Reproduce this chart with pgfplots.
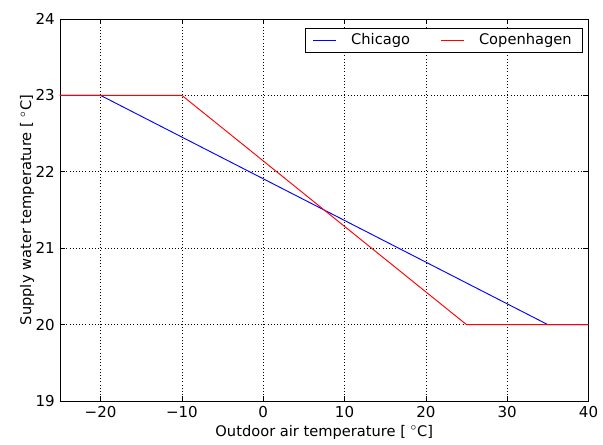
\documentclass[border=0pt]{standalone}
\usepackage{fontspec}
\setmainfont{DejaVu Sans}
\usepackage{pgfplots}
\pgfplotsset{compat=1.18}
\begin{document}
\fontsize{11}{13}\selectfont
\begin{tikzpicture}
\begin{axis}[
  scale only axis,
  width=397pt, height=287pt,
  xmin=-25, xmax=40, ymin=19, ymax=24,
  xtick={-20,-10,0,10,20,30,40},
  xticklabels={−20,−10,0,10,20,30,40},
  ytick={19,20,21,22,23,24},
  yticklabels={19,20,21,22,23,24},
  ticklabel style={font=\fontsize{11.3}{13}\selectfont},
  tick align=inside,
  tick style={black, line width=0.5pt},
  major tick length=4pt,
  xtick pos=both, ytick pos=both,
  grid=major,
  grid style={black, dotted, line width=0.5pt},
  axis line style={black, line width=0.6pt},
  xlabel={Outdoor air temperature [ $^\circ$C]},
  ylabel={Supply water temperature [ $^\circ$C]},
  xlabel style={at={(axis description cs:0.5,-0.081)}, anchor=center},
  ylabel style={at={(axis description cs:-0.0623,0.5)}, anchor=center},
  legend columns=2,
  legend style={at={(0.9887,0.9765)}, anchor=north east, draw=black,
    /tikz/every odd column/.append style={column sep=9pt},
    /tikz/every even column/.append style={column sep=21pt}, inner xsep=6pt, inner ysep=2pt},
  legend cell align=left,
]
\addplot[color=blue, line width=0.7pt] coordinates {(-25,23) (-20,23) (35,20) (40,20)};
\addlegendentry{Chicago}
\addplot[color=red, line width=0.7pt] coordinates {(-25,23) (-10,23) (25,20) (40,20)};
\addlegendentry{Copenhagen}
\end{axis}
\path ([xshift=-45pt,yshift=-29.25pt]current axis.south west) rectangle ([xshift=10.5pt,yshift=14.25pt]current axis.north east);
\end{tikzpicture}
\end{document}
